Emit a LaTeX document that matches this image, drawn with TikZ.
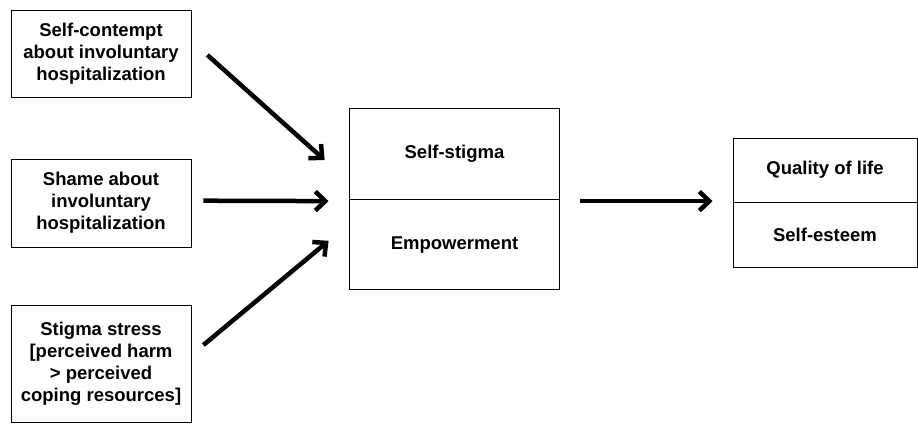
\documentclass[tikz,border=0pt]{standalone}
\usepackage{fontspec}
\setmainfont{Liberation Sans}
\usetikzlibrary{arrows.meta}

\begin{document}
\begin{tikzpicture}[x=1pt,y=-1pt,->,>={Straight Barb[length=10pt,width=19pt]},
  box/.style={draw,-,line width=0.8pt,inner sep=0pt,align=center,
    font=\bfseries\fontsize{18.5}{22}\selectfont},
  arr/.style={line width=4.5pt}]

\useasboundingbox (0,0) rectangle (918,423);

\node [box,minimum width=180pt,minimum height=87pt] (contempt) at (101,53.5)
  {Self-contempt\\about involuntary\\hospitalization};
\node [box,minimum width=180pt,minimum height=88pt] (shame) at (101,203)
  {Shame about\\involuntary\\hospitalization};
\node [box,minimum width=180pt,minimum height=117pt] (stress) at (101,363.5)
  {Stigma stress\\{[}perceived harm\\> perceived\\coping resources{]}};

\node [box,minimum width=210pt,minimum height=91pt] (stigma) at (454.5,153.5) {Self-stigma};
\node [box,minimum width=210pt,minimum height=90pt,anchor=north] (empower) at (stigma.south) {Empowerment};

\node [box,minimum width=184pt,minimum height=64pt] (quality) at (825,170) {Quality of life};
\node [box,minimum width=184pt,minimum height=65pt,anchor=north] (esteem) at (quality.south) {Self-esteem};

\draw [arr] ([xshift=16pt,yshift=-1.5pt]contempt.east) -- ([xshift=-24.5pt,yshift=-6.5pt]stigma.west);
\draw [arr] ([xshift=12pt,yshift=2.3pt]shame.east) -- ([xshift=-20.5pt,yshift=-1.7pt]stigma.south west);
\draw [arr] ([xshift=12pt,yshift=18.5pt]stress.east) -- ([xshift=-20.5pt,yshift=4pt]empower.west);

\draw [arr] ([xshift=20pt,yshift=-1.7pt]stigma.south east) -- ([xshift=-20pt,yshift=1.3pt]quality.south west);

\end{tikzpicture}
\end{document}
